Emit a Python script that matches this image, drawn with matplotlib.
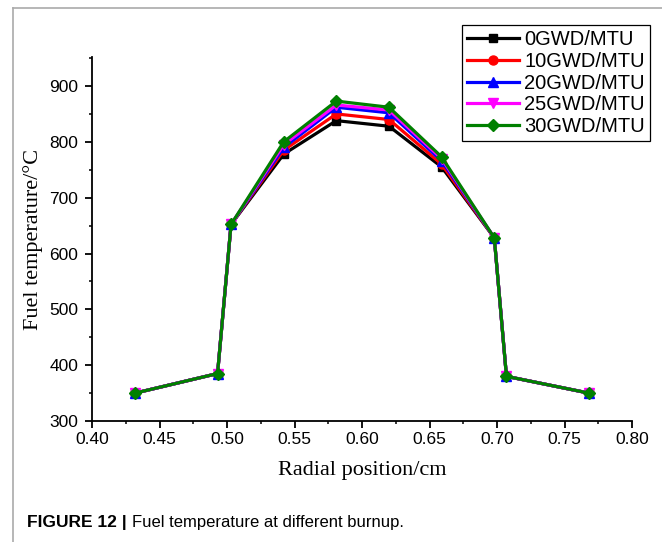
import numpy as np
import matplotlib
matplotlib.use('Agg')
import matplotlib.pyplot as plt
from matplotlib.lines import Line2D
from matplotlib.ticker import MultipleLocator

# 径向位置
radial_pos = [0.432, 0.493, 0.503, 0.542, 0.581, 0.620, 0.659, 0.698, 0.707, 0.768]

# 不同燃耗下的燃料温度
temp_0gwd = [350, 385, 652, 778, 838, 828, 755, 628, 380, 350]
temp_10gwd = [350, 385, 652, 785, 850, 840, 760, 628, 380, 350]
temp_20gwd = [350, 385, 652, 790, 862, 852, 766, 628, 380, 350]
temp_25gwd = [350, 385, 652, 795, 866, 857, 770, 628, 380, 350]
temp_30gwd = [350, 385, 652, 800, 873, 862, 773, 628, 380, 350]

labels = ['0GWD/MTU', '10GWD/MTU', '20GWD/MTU', '25GWD/MTU', '30GWD/MTU']

W, H = 662, 542
fig = plt.figure(figsize=(6.62, 5.42), dpi=100)
ax = fig.add_axes([92 / W, 1 - 421 / H, 540 / W, 364 / H])

series = [temp_0gwd, temp_10gwd, temp_20gwd, temp_25gwd, temp_30gwd]
colors = ['black', 'red', 'blue', 'magenta', 'green']
markers = ['s', 'o', '^', 'v', 'D']
msizes = [5.5, 6.5, 6.5, 6.5, 6]
handles = []
for y, c, m, ms, lab in zip(series, colors, markers, msizes, labels):
    h, = ax.plot(radial_pos, y, color=c, marker=m, markersize=ms, lw=2.3, label=lab)
    handles.append(h)

ax.set_xlim(0.40, 0.80)
ax.set_ylim(300, 952)
ax.xaxis.set_major_locator(MultipleLocator(0.05))
ax.xaxis.set_minor_locator(MultipleLocator(0.025))
ax.yaxis.set_major_locator(MultipleLocator(100))
ax.yaxis.set_minor_locator(MultipleLocator(50))
ax.spines['top'].set_visible(False)
ax.spines['right'].set_visible(False)
ax.spines['left'].set_linewidth(1.3)
ax.spines['bottom'].set_linewidth(1.3)
ax.tick_params(which='major', direction='out', length=5, width=1.3, labelsize=12.5)
ax.tick_params(which='minor', direction='out', length=2.5, width=1.1)
ax.tick_params(axis='x', which='major', pad=3)
ax.tick_params(axis='y', which='major', pad=5)
for t in ax.get_xticklabels() + ax.get_yticklabels():
    t.set_family('Liberation Sans')

ax.set_xlabel('Radial position/cm', family='Liberation Serif', fontsize=16, va='center')
ax.set_ylabel('Fuel temperature/°C', family='Liberation Serif', fontsize=16, va='center')
ax.xaxis.set_label_coords(0.5, (421 - 470) / 364)
ax.yaxis.set_label_coords((33 - 92) / 540, 0.5)

leg = fig.legend(handles=handles, loc='upper right', bbox_to_anchor=(650 / W, 1 - 25 / H),
                 prop={'family': 'Liberation Sans', 'size': 14.5},
                 fancybox=False, edgecolor='black', framealpha=1,
                 handlelength=2.6, handletextpad=0.25, labelspacing=0.14,
                 borderpad=0.25, borderaxespad=0)
leg.get_frame().set_linewidth(0.9)

# 灰色外框线
fig.add_artist(Line2D([12.5 / W, 1], [1 - 8 / H, 1 - 8 / H], color='#aaaaaa', lw=1.2))
fig.add_artist(Line2D([12.5 / W, 12.5 / W], [0, 1 - 8 / H], color='#aaaaaa', lw=1.2))

# 图注
cap1 = fig.text(27 / W, 1 - 522 / H, 'FIGURE 12 |', fontsize=12.5, fontweight='bold',
                family='Liberation Sans', va='center')
fig.canvas.draw()
bb = cap1.get_window_extent()
fig.text((bb.x1 + 5) / W, 1 - 522 / H, 'Fuel temperature at different burnup.', fontsize=12,
         family='Liberation Sans', va='center')

fig.savefig('out.png', dpi=100)
